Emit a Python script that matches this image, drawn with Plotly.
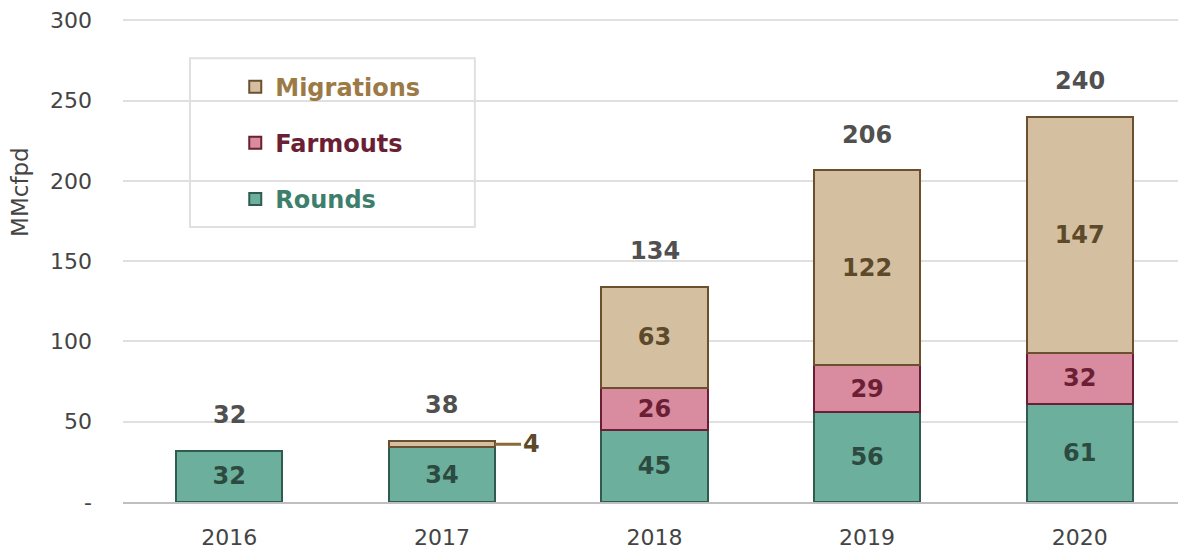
import plotly.graph_objects as go

years = ["2016", "2017", "2018", "2019", "2020"]
rounds = [32, 34, 45, 56, 61]
farmouts = [None, None, 26, 29, 32]
migrations = [None, 4, 63, 122, 147]
totals = [32, 38, 134, 206, 240]
y_ticks = [0, 50, 100, 150, 200, 250, 300]
y_tick_text = ["-", "50", "100", "150", "200", "250", "300"]

FONT = "DejaVu Sans"

def lab(vals, hide=()):
    return ["" if (v is None or i in hide) else str(v) for i, v in enumerate(vals)]

xs = list(range(len(years)))

fig = go.Figure()
fig.add_trace(go.Bar(
    x=xs, y=rounds, name="<span style='color:#3E7F6C'>Rounds</span>",
    marker=dict(color="#6BAF9C", line=dict(color="#2F5C4F", width=2)),
    text=lab(rounds), textposition="inside", insidetextanchor="middle",
    textfont=dict(family=FONT, size=24, color="#2D4A40", weight="bold"),
    legendgroup="r", legendrank=3, width=0.5, constraintext="none", textangle=0))
fig.add_trace(go.Bar(
    x=xs, y=farmouts, name="<span style='color:#6B1F35'>Farmouts</span>",
    marker=dict(color="#D98BA0", line=dict(color="#6B1F35", width=2)),
    text=lab(farmouts), textposition="inside", insidetextanchor="middle",
    textfont=dict(family=FONT, size=24, color="#6B1F35", weight="bold"),
    legendgroup="f", legendrank=2, width=0.5, constraintext="none", textangle=0))
fig.add_trace(go.Bar(
    x=xs, y=migrations, name="<span style='color:#9C7A45'>Migrations</span>",
    marker=dict(color="#D4C0A0", line=dict(color="#6B5030", width=2)),
    text=lab(migrations, hide=(1,)), textposition="inside", insidetextanchor="middle",
    textfont=dict(family=FONT, size=24, color="#5C4A2A", weight="bold"),
    legendgroup="m", legendrank=1, width=0.5, constraintext="none", textangle=0))

# totals above bars
for x, t in zip(xs, totals):
    fig.add_annotation(x=x, y=t, text=str(t), showarrow=False, yshift=36,
                       font=dict(family=FONT, size=24, color="#505050", weight="bold"))

# small migrations value for 2017 with leader line
fig.add_annotation(x=1.25, y=rounds[1] + migrations[1] / 2, xref="x", yref="y",
                   text=str(migrations[1]), showarrow=True, arrowhead=0,
                   arrowwidth=3, arrowcolor="#8C6A3A", ax=36, ay=0,
                   font=dict(family=FONT, size=24, color="#5C4A2A", weight="bold"))

# y-axis title (placed above centre, as in the reference)
fig.add_annotation(xref="paper", yref="paper", x=-0.0975, y=0.640,
                   text="MMcfpd", textangle=-90, showarrow=False,
                   xanchor="center", yanchor="middle",
                   font=dict(family=FONT, size=23, color="#444444"))

# legend box
fig.add_shape(type="rect", xref="paper", yref="paper",
              x0=0.063, x1=0.331, y0=0.567, y1=0.915,
              line=dict(color="#E0E0E0", width=2), fillcolor="white", layer="below")

fig.update_layout(
    width=1186, height=550,
    margin=dict(l=115, r=8, t=9, b=56),
    barmode="stack",
    plot_bgcolor="white", paper_bgcolor="white",
    font=dict(family=FONT, color="#444444"),
    showlegend=True,
    legend=dict(x=0.1056, y=0.902, xanchor="left", yanchor="top",
                traceorder="grouped", tracegroupgap=22,
                font=dict(family=FONT, size=24, weight="bold"),
                bgcolor="rgba(0,0,0,0)", borderwidth=0),
    xaxis=dict(range=[-0.5, 4.5], tickvals=xs, ticktext=years,
               showline=True, linecolor="#BFBFBF", linewidth=2, showgrid=False,
               zeroline=False, ticklabelstandoff=15, automargin=False,
               ticks="", tickfont=dict(family=FONT, size=22, color="#444444")),
    yaxis=dict(range=[0, 302], tickvals=y_ticks, ticktext=y_tick_text,
               showgrid=True, gridcolor="#E0E0E0", gridwidth=1.5,
               zeroline=False, ticklabelstandoff=30, ticklabeloverflow="allow",
               automargin=False,
               tickfont=dict(family=FONT, size=22, color="#444444")),
)

fig.write_html("out.html")
